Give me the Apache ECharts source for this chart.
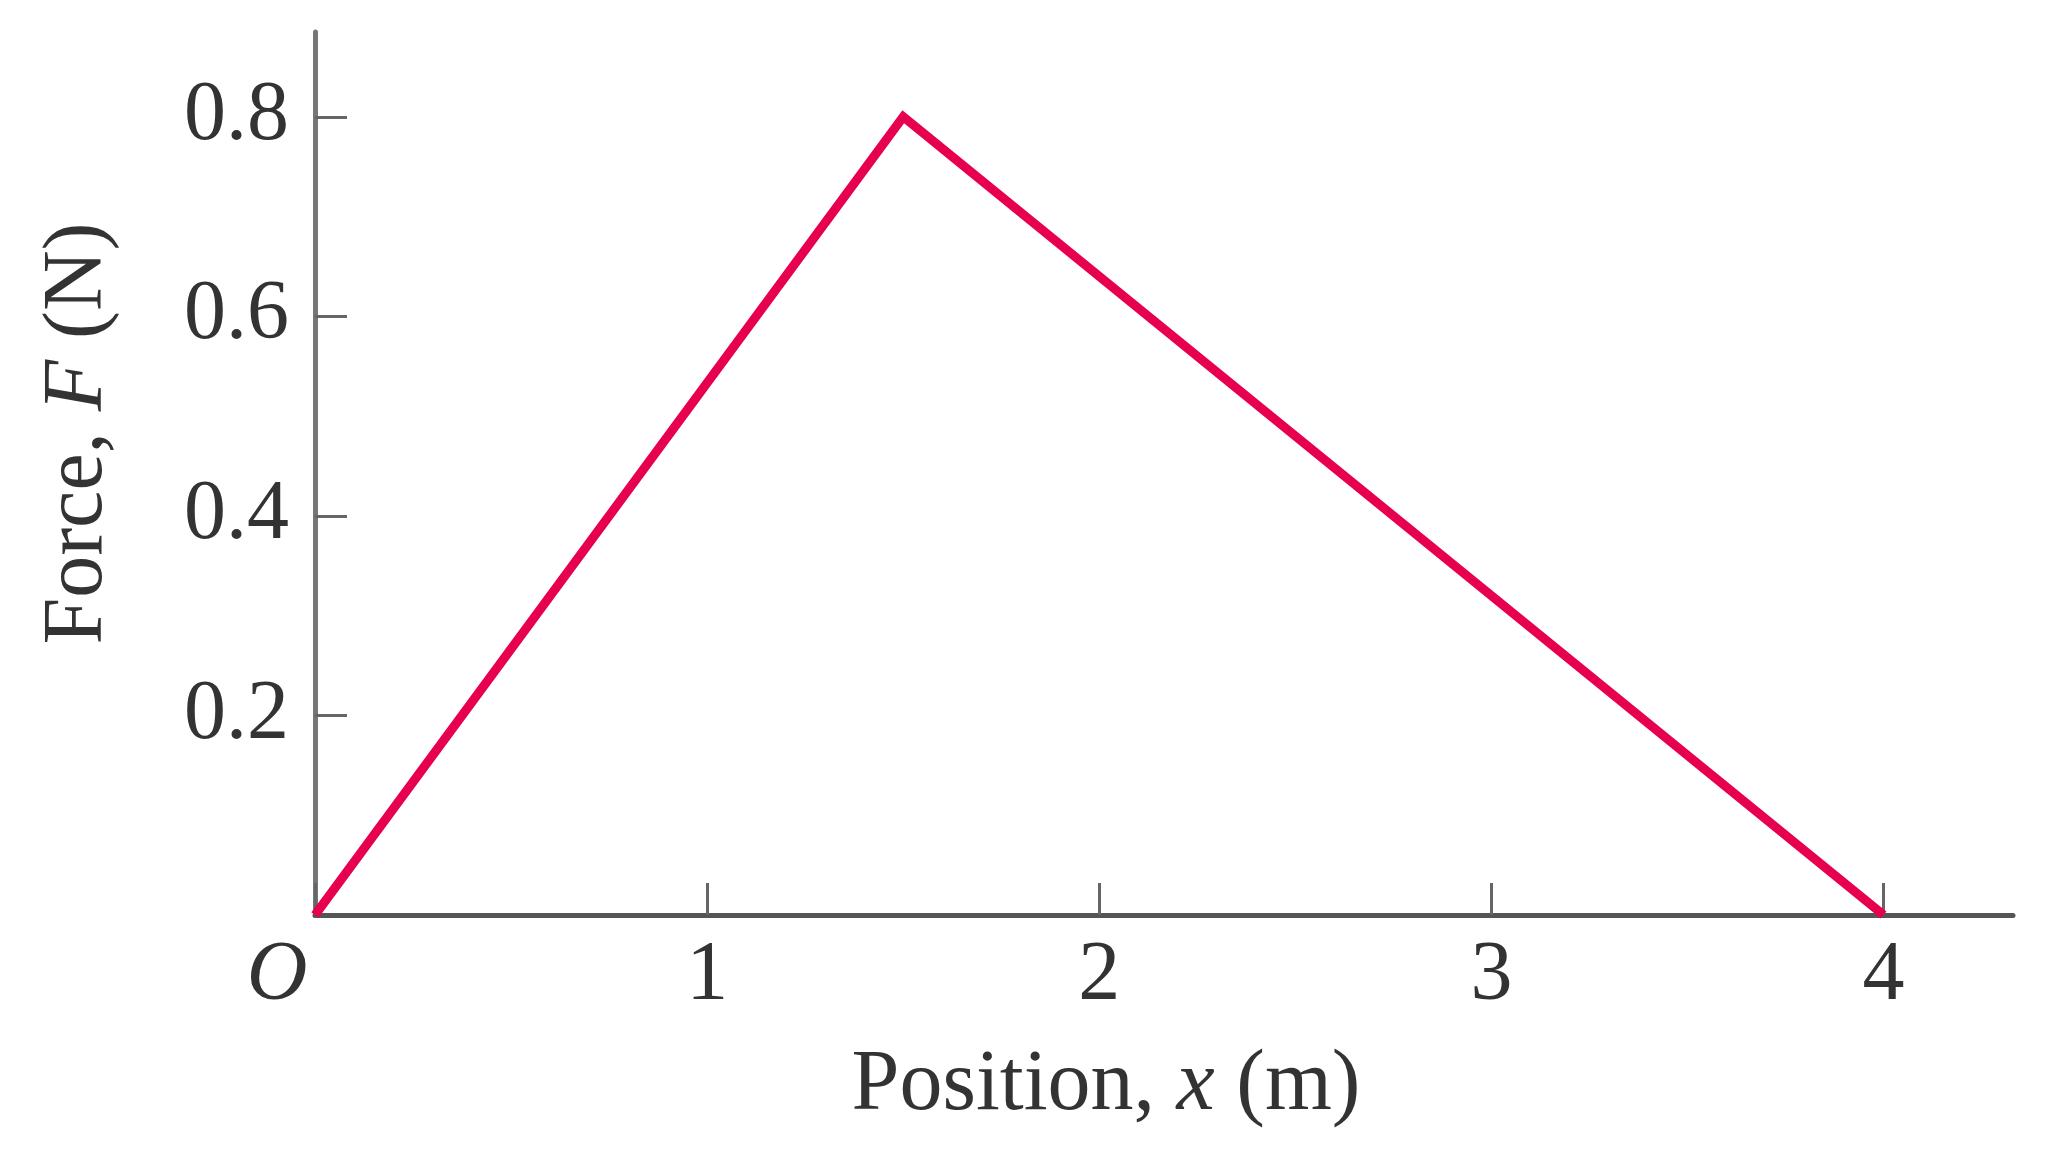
<!DOCTYPE html>
<html>
<head>
<meta charset="utf-8">
<script src="https://cdn.jsdelivr.net/npm/echarts@6/dist/echarts.min.js"></script>
<style>
html,body{margin:0;padding:0;background:#fff;}
#chart{width:2046px;height:1164px;}
</style>
</head>
<body>
<div id="chart"></div>
<script>
const positions = [0, 1.5, 4];
const forces = [0, 0.8, 0];
const xTicks = [0, 1, 2, 3, 4];
const yTicks = [0.2, 0.4, 0.6, 0.8];
const xName = 'Position, {i|x} (m)';
const yName = 'Force, {i|F} (N)';

const FONT = '"Liberation Serif", "DejaVu Serif", serif';
const TXT = '#333';

const chart = echarts.init(document.getElementById('chart'));
chart.setOption({
  backgroundColor: '#fff',
  animation: false,
  grid: { left: 315, right: 33, top: 32, bottom: 249, containLabel: false },
  xAxis: {
    type: 'value', min: 0, max: 4.33,
    splitLine: { show: false },
    axisLine: { show: true, lineStyle: { color: '#555', width: 5 } },
    axisTick: { show: true, inside: true, length: 32, customValues: xTicks, lineStyle: { color: '#666', width: 3 } },
    axisLabel: {
      customValues: xTicks, margin: 20,
      fontFamily: FONT, fontSize: 84, color: TXT,
      formatter: v => v === 0 ? '{o|O}' : String(v),
      rich: { o: { fontFamily: FONT, fontSize: 84, fontStyle: 'italic', color: TXT, padding: [0, 76, 0, 0] } }
    },
    name: xName, nameLocation: 'middle', nameGap: 128,
    nameTextStyle: {
      fontFamily: FONT, fontSize: 86, color: TXT, padding: [0, 116, 0, 0],
      rich: { i: { fontFamily: FONT, fontSize: 86, fontStyle: 'italic', color: TXT } }
    }
  },
  yAxis: {
    type: 'value', min: 0, max: 0.885,
    splitLine: { show: false },
    axisLine: { show: true, lineStyle: { color: '#777', width: 5 } },
    axisTick: { show: true, inside: true, length: 32, customValues: yTicks, lineStyle: { color: '#666', width: 3 } },
    axisLabel: {
      customValues: yTicks, margin: 26,
      fontFamily: FONT, fontSize: 84, color: TXT,
      formatter: v => v.toFixed(1)
    },
    name: yName, nameLocation: 'middle', nameGap: 194, nameRotate: 90,
    nameTextStyle: {
      fontFamily: FONT, fontSize: 84, color: TXT, padding: [0, 0, 0, 80],
      rich: { i: { fontFamily: FONT, fontSize: 84, fontStyle: 'italic', color: TXT } }
    }
  },
  series: [{
    type: 'line',
    data: positions.map((x, k) => [x, forces[k]]),
    showSymbol: false,
    lineStyle: { color: '#e6004f', width: 9, join: 'miter' },
    z: 1
  }]
});
</script>
</body>
</html>
